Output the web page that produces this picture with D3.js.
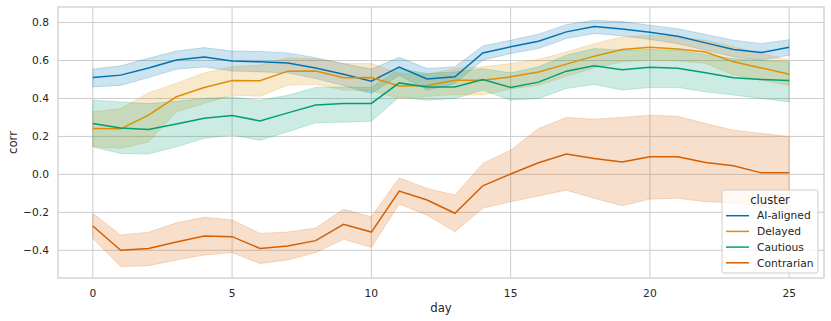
<!DOCTYPE html>
<html>
<head>
<meta charset="utf-8">
<script src="https://cdn.jsdelivr.net/npm/d3@7"></script>
<style>
  body { margin: 0; background: #fff; }
  text { font-family: "DejaVu Sans", sans-serif; }
</style>
</head>
<body>
<div id="chart"></div>
<script>
const days = d3.range(0, 26);
const clusters = ["AI-aligned", "Delayed", "Cautious", "Contrarian"];
const colors = ["#0173b2", "#de8f05", "#029e73", "#d55e00"];

// mean per day
const aiMean = [0.51, 0.523, 0.561, 0.603, 0.619, 0.598, 0.593, 0.587, 0.561, 0.528, 0.491, 0.566, 0.503, 0.514, 0.64, 0.672, 0.702, 0.751, 0.779, 0.766, 0.749, 0.728, 0.693, 0.658, 0.642, 0.67];
const aiLow  = [0.461, 0.469, 0.51, 0.554, 0.566, 0.545, 0.54, 0.535, 0.505, 0.469, 0.426, 0.522, 0.444, 0.479, 0.602, 0.637, 0.663, 0.716, 0.742, 0.73, 0.711, 0.689, 0.654, 0.62, 0.602, 0.628];
const aiHigh = [0.555, 0.572, 0.612, 0.65, 0.668, 0.65, 0.648, 0.64, 0.615, 0.584, 0.555, 0.617, 0.558, 0.567, 0.677, 0.707, 0.739, 0.789, 0.812, 0.805, 0.786, 0.768, 0.737, 0.707, 0.689, 0.71];

const delMean = [0.242, 0.24, 0.312, 0.409, 0.458, 0.495, 0.493, 0.544, 0.545, 0.509, 0.51, 0.466, 0.468, 0.496, 0.496, 0.514, 0.54, 0.581, 0.623, 0.658, 0.67, 0.661, 0.645, 0.593, 0.561, 0.528];
const delLow  = [0.145, 0.137, 0.17, 0.33, 0.374, 0.417, 0.412, 0.47, 0.475, 0.444, 0.44, 0.4, 0.41, 0.421, 0.418, 0.45, 0.47, 0.517, 0.561, 0.593, 0.602, 0.598, 0.584, 0.524, 0.496, 0.469];
const delHigh = [0.33, 0.347, 0.43, 0.48, 0.535, 0.567, 0.575, 0.614, 0.608, 0.584, 0.584, 0.531, 0.528, 0.557, 0.567, 0.584, 0.605, 0.645, 0.689, 0.724, 0.733, 0.724, 0.707, 0.672, 0.637, 0.602];

const cauMean = [0.268, 0.245, 0.237, 0.265, 0.296, 0.31, 0.282, 0.324, 0.366, 0.374, 0.374, 0.482, 0.461, 0.461, 0.5, 0.458, 0.486, 0.544, 0.572, 0.551, 0.565, 0.559, 0.535, 0.509, 0.5, 0.495];
const cauLow  = [0.145, 0.11, 0.107, 0.145, 0.19, 0.207, 0.18, 0.225, 0.272, 0.275, 0.28, 0.408, 0.391, 0.4, 0.444, 0.391, 0.4, 0.453, 0.474, 0.444, 0.458, 0.458, 0.435, 0.418, 0.4, 0.382];
const cauHigh = [0.391, 0.382, 0.373, 0.385, 0.4, 0.408, 0.39, 0.417, 0.458, 0.461, 0.458, 0.557, 0.531, 0.54, 0.557, 0.535, 0.567, 0.628, 0.663, 0.654, 0.658, 0.654, 0.632, 0.61, 0.6, 0.593];

const conMean = [-0.272, -0.4, -0.391, -0.356, -0.325, -0.328, -0.39, -0.377, -0.349, -0.263, -0.304, -0.088, -0.135, -0.205, -0.06, 0.002, 0.061, 0.107, 0.084, 0.065, 0.093, 0.093, 0.063, 0.045, 0.008, 0.008];
const conLow  = [-0.337, -0.486, -0.481, -0.451, -0.425, -0.412, -0.47, -0.451, -0.412, -0.342, -0.385, -0.156, -0.215, -0.302, -0.179, -0.144, -0.114, -0.083, -0.126, -0.165, -0.13, -0.126, -0.144, -0.15, -0.17, -0.185];
const conHigh = [-0.205, -0.319, -0.305, -0.255, -0.226, -0.24, -0.311, -0.304, -0.283, -0.184, -0.223, -0.018, -0.074, -0.109, 0.058, 0.128, 0.242, 0.3, 0.291, 0.3, 0.312, 0.306, 0.268, 0.233, 0.216, 0.2];

const yTicks = [-0.4, -0.2, 0.0, 0.2, 0.4, 0.6, 0.8];
const xTicks = [0, 5, 10, 15, 20, 25];

const series = [
    { name: clusters[0], mean: aiMean, low: aiLow, high: aiHigh },
    { name: clusters[1], mean: delMean, low: delLow, high: delHigh },
    { name: clusters[2], mean: cauMean, low: cauLow, high: cauHigh },
    { name: clusters[3], mean: conMean, low: conLow, high: conHigh }
];

const W = 831, H = 321;
const margin = { top: 7, right: 7, bottom: 43, left: 58 };
const width = W - margin.left - margin.right;
const height = H - margin.top - margin.bottom;

const svg = d3.select("#chart").append("svg")
    .attr("width", W).attr("height", H);
const g = svg.append("g")
    .attr("transform", "translate(" + margin.left + "," + margin.top + ")");

const x = d3.scaleLinear().domain([-1.25, 26.25]).range([0, width]);
const y = d3.scaleLinear().domain([-0.546, 0.882]).range([height, 0]);

// grid
g.selectAll(".gx").data(xTicks).enter().append("line")
    .attr("x1", d => x(d)).attr("x2", d => x(d))
    .attr("y1", 0).attr("y2", height)
    .attr("stroke", "#cccccc").attr("stroke-width", 1);
g.selectAll(".gy").data(yTicks).enter().append("line")
    .attr("y1", d => y(d)).attr("y2", d => y(d))
    .attr("x1", 0).attr("x2", width)
    .attr("stroke", "#cccccc").attr("stroke-width", 1);

// bands first, then lines
const area = d3.area()
    .x((d, i) => x(days[i]))
    .y0(d => y(d[0]))
    .y1(d => y(d[1]));
series.forEach((s, k) => {
    g.append("path")
        .datum(s.low.map((v, i) => [v, s.high[i]]))
        .attr("fill", colors[k]).attr("fill-opacity", 0.2)
        .attr("stroke", colors[k]).attr("stroke-opacity", 0.2).attr("stroke-width", 1)
        .attr("d", area);
});
const line = d3.line().x((d, i) => x(days[i])).y(d => y(d));
series.forEach((s, k) => {
    g.append("path")
        .datum(s.mean)
        .attr("fill", "none")
        .attr("stroke", colors[k]).attr("stroke-width", 1.5)
        .attr("d", line);
});

// frame
g.append("rect").attr("width", width).attr("height", height)
    .attr("fill", "none").attr("stroke", "#cccccc").attr("stroke-width", 1.25);

// tick labels
const fmt = d => d3.format(".1f")(d).replace("-", "\u2212");
g.selectAll(".ty").data(yTicks).enter().append("text")
    .attr("x", -9).attr("y", d => y(d)).attr("dy", "0.35em")
    .attr("text-anchor", "end").attr("font-size", 10.7).attr("fill", "#262626")
    .text(fmt);
g.selectAll(".tx").data(xTicks).enter().append("text")
    .attr("x", d => x(d)).attr("y", height + 18.5)
    .attr("text-anchor", "middle").attr("font-size", 10.7).attr("fill", "#262626")
    .text(d => d);

// axis labels
g.append("text").attr("x", width / 2).attr("y", height + 33.5)
    .attr("text-anchor", "middle").attr("font-size", 11.7).attr("fill", "#262626")
    .text("day");
g.append("text")
    .attr("transform", "translate(" + (12.5 - margin.left) + "," + (height / 2) + ") rotate(-90)")
    .attr("dy", "0.35em")
    .attr("text-anchor", "middle").attr("font-size", 11.7).attr("fill", "#262626")
    .text("corr");

// legend
const leg = svg.append("g").attr("transform", "translate(722,190)");
leg.append("rect").attr("width", 96).attr("height", 83).attr("rx", 2)
    .attr("fill", "#ffffff").attr("fill-opacity", 0.8)
    .attr("stroke", "#cccccc").attr("stroke-width", 1);
leg.append("text").attr("x", 48).attr("y", 9.5).attr("dy", "0.35em").attr("text-anchor", "middle")
    .attr("font-size", 11.7).attr("fill", "#262626").text("cluster");
clusters.forEach((c, i) => {
    const yy = 25.7 + i * 15.7;
    leg.append("line").attr("x1", 4).attr("x2", 27).attr("y1", yy).attr("y2", yy)
        .attr("stroke", colors[i]).attr("stroke-width", 1.5);
    leg.append("text").attr("x", 35).attr("y", yy).attr("dy", "0.35em")
        .attr("font-size", 10.7).attr("fill", "#262626").text(c);
});
</script>
</body>
</html>
